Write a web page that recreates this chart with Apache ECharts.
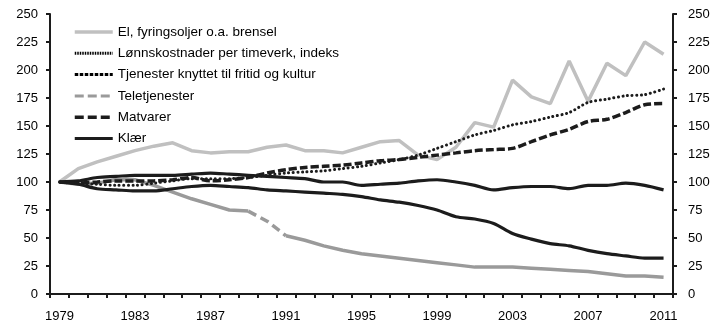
<!DOCTYPE html>
<html>
<head>
<meta charset="utf-8">
<script src="https://cdn.jsdelivr.net/npm/echarts@6/dist/echarts.min.js"></script>
<style>html,body{margin:0;padding:0;background:#fff}#c{width:720px;height:332px}</style>
</head>
<body>
<div id="c"></div>
<script>
const years = ['1979','1980','1981','1982','1983','1984','1985','1986','1987','1988','1989','1990','1991','1992','1993','1994','1995','1996','1997','1998','1999','2000','2001','2002','2003','2004','2005','2006','2007','2008','2009','2010','2011'];
const el = [100,112,118,123,128,132,135,128,126,127,127,131,133,128,128,126,131,136,137,124,120,131,153,149,191,176,170,208,172,206,195,225,214];
const lonn = [100,99,98,97,97,99,101,103,103,103,104,106,108,109,110,112,114,117,120,124,130,136,142,146,151,154,158,162,171,174,177,178,183];
const tjenester = [100,101,104,105,106,106,106,107,108,107,106,105,104,103,100,100,97,98,99,101,102,100,97,93,95,96,96,94,97,97,99,97,93];
const tele = [100,98,99,102,102,97,91,85,80,75,74,65,52,48,43,39,36,34,32,30,28,26,24,24,24,23,22,21,20,18,16,16,15];
const matvarer = [100,99,100,101,101,101,102,104,101,102,104,108,111,113,114,115,117,119,120,122,124,126,128,129,130,136,142,147,154,156,162,169,170];
const klaer = [100,98,94,93,92,92,94,96,97,96,95,93,92,91,90,89,87,84,82,79,75,69,67,63,54,49,45,43,39,36,34,32,32];
const yTicks = {min: 0, max: 250, interval: 25};
// Teletjenester is drawn dashed between 1989 and 1991
const teleBreakFrom = '1989', teleBreakTo = '1991';

const iFrom = years.indexOf(teleBreakFrom), iTo = years.indexOf(teleBreakTo);
const teleSolid = tele.map((v, i) => (i > iFrom && i < iTo) ? null : v);
const teleDash = tele.map((v, i) => (i >= iFrom && i <= iTo) ? v : null);

const FONT = 'Liberation Sans, Arial, sans-serif';
const BLACK = '#1c1c1c';
const NOSYM = {color: 'rgba(0,0,0,0)', borderColor: 'rgba(0,0,0,0)', borderWidth: 0, opacity: 0};
const chart = echarts.init(document.getElementById('c'), null, {renderer: 'canvas'});

function yAxis(pos) {
  return {
    type: 'value', position: pos, min: yTicks.min, max: yTicks.max, interval: yTicks.interval,
    axisLine: {show: true, lineStyle: {color: BLACK, width: 2}},
    axisTick: {show: true, length: 4, inside: false, lineStyle: {color: BLACK, width: 2}},
    splitLine: {show: false},
    axisLabel: {color: '#000', fontFamily: FONT, fontSize: 13, margin: pos === 'left' ? 12 : 15}
  };
}

chart.setOption({
  animation: false,
  backgroundColor: '#fff',
  grid: {left: 50, right: 47, top: 14, bottom: 38},
  legend: {
    orient: 'vertical', left: 68, top: 20,
    itemWidth: 38, itemHeight: 14, itemGap: 7.3,
    textStyle: {color: '#000', fontFamily: FONT, fontSize: 13.5},
    data: [
      {name: 'El, fyringsoljer o.a. brensel', itemStyle: NOSYM, lineStyle: {color: '#c0c0c0', width: 3.5, type: 'solid'}},
      {name: 'Lønnskostnader per timeverk, indeks', itemStyle: NOSYM, lineStyle: {color: '#000', type: [1.5, 1], width: 3, cap: 'butt'}},
      {name: 'Tjenester knyttet til fritid og kultur', itemStyle: NOSYM, lineStyle: {color: '#000', type: [3.5, 1.5], width: 3, cap: 'butt'}},
      {name: 'Teletjenester', itemStyle: NOSYM, lineStyle: {color: '#9a9a9a', type: [9, 4], width: 3, cap: 'butt'}},
      {name: 'Matvarer', itemStyle: NOSYM, lineStyle: {color: BLACK, type: [9, 4], width: 3.5, cap: 'butt'}},
      {name: 'Klær', itemStyle: NOSYM, lineStyle: {color: BLACK, width: 3.2, type: 'solid'}}
    ]
  },
  xAxis: {
    type: 'category', data: years, boundaryGap: true,
    axisLine: {show: true, lineStyle: {color: BLACK, width: 2}},
    axisTick: {show: true, interval: 0, length: 4, lineStyle: {color: BLACK, width: 2}},
    axisLabel: {interval: 3, color: '#000', fontFamily: FONT, fontSize: 13, margin: 16}
  },
  yAxis: [yAxis('left'), yAxis('right')],
  series: [
    {name: 'El, fyringsoljer o.a. brensel', type: 'line', data: el, symbol: 'none', z: 2,
      lineStyle: {color: '#c0c0c0', width: 3.5}, itemStyle: {color: '#c0c0c0'}},
    {name: 'Teletjenester', type: 'line', data: teleSolid, symbol: 'none', connectNulls: false, z: 2,
      lineStyle: {color: '#9a9a9a', width: 3.5}, itemStyle: {color: '#9a9a9a'}},
    {name: 'TeleBreak', type: 'line', data: teleDash, symbol: 'none', z: 2,
      lineStyle: {color: '#9a9a9a', width: 3.5, type: [9, 5]}, itemStyle: {color: '#9a9a9a'}},
    {name: 'Klær', type: 'line', data: klaer, symbol: 'none', smooth: 0.3, z: 3,
      lineStyle: {color: BLACK, width: 3.2}, itemStyle: {color: BLACK}},
    {name: 'Tjenester knyttet til fritid og kultur', type: 'line', data: tjenester, symbol: 'none', smooth: 0.3, z: 3,
      lineStyle: {color: BLACK, width: 3.2}, itemStyle: {color: BLACK}},
    {name: 'Matvarer', type: 'line', data: matvarer, symbol: 'none', smooth: 0.3, z: 4,
      lineStyle: {color: BLACK, width: 3.5, type: [8, 3]}, itemStyle: {color: BLACK}},
    {name: 'Lønnskostnader per timeverk, indeks', type: 'line', data: lonn, symbol: 'none', smooth: 0.3, z: 5,
      lineStyle: {color: BLACK, width: 3, type: [0.1, 4.5], cap: 'round'}, itemStyle: {color: BLACK}}
  ]
});
</script>
</body>
</html>
